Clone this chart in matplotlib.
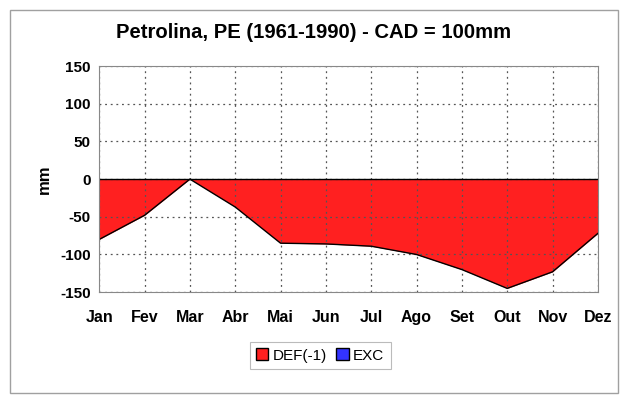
import numpy as np
import matplotlib.pyplot as plt
from matplotlib.patches import Patch, Rectangle

plt.rcParams['font.family'] = ['Liberation Sans', 'DejaVu Sans']
plt.rcParams['axes.unicode_minus'] = False

meses = ["Jan", "Fev", "Mar", "Abr", "Mai", "Jun", "Jul", "Ago", "Set", "Out", "Nov", "Dez"]
deficit = [-80, -48, 0, -37, -85, -86, -89, -100, -120, -145, -123, -72]
excedente = [0] * 12

fig = plt.figure(figsize=(6.28, 4.03), dpi=100)
fig.patches.append(Rectangle((10 / 628, 10 / 403), 608 / 628, 383 / 403, transform=fig.transFigure,
                             fill=False, edgecolor="#a0a0a0", linewidth=1))
ax = fig.add_axes([0.158, 0.275, 0.794, 0.561])

x = np.arange(len(meses))
ax.fill_between(x, deficit, 0, color="#ff2020", linewidth=0)
ax.plot(x, deficit, color="black", linewidth=1)
ax.fill_between(x, excedente, 0, color="#3333ff", linewidth=0)
ax.axhline(0, color="black", linewidth=1)

ax.set_xlim(0, 11)
ax.set_ylim(-150, 150)
ax.set_yticks(np.arange(-150, 151, 50))
ax.set_xticks(x)
ax.set_xticklabels(meses)
ax.tick_params(axis="both", length=0)
ax.tick_params(axis="x", pad=13, labelsize=11.5)
ax.tick_params(axis="y", pad=6, labelsize=11)
for lab in ax.get_xticklabels() + ax.get_yticklabels():
    lab.set_fontweight("bold")
ax.grid(True, color="#555555", linestyle=(0, (1.5, 3)), linewidth=0.9)
for s in ax.spines.values():
    s.set_color("#888888")
    s.set_linewidth(0.8)

ax.set_ylabel("mm", fontsize=12, fontweight="bold", labelpad=6)
fig.text(0.500, 0.92, "Petrolina, PE (1961-1990) - CAD = 100mm", ha="center", va="center",
         fontsize=14.6, fontweight="bold")

handles = [Patch(facecolor="#ff2020", edgecolor="black", label="DEF(-1)"),
           Patch(facecolor="#3333ff", edgecolor="black", label="EXC")]
leg = fig.legend(handles=handles, loc="center", bbox_to_anchor=(0.51, 0.118), ncol=2,
                 fancybox=False, frameon=True, fontsize=11, handlelength=0.8, handleheight=0.8,
                 handletextpad=0.3, columnspacing=0.6, borderpad=0.4)
leg.get_frame().set_edgecolor("#aaaaaa")
leg.get_frame().set_linewidth(0.8)

plt.savefig("out.png", dpi=100)
